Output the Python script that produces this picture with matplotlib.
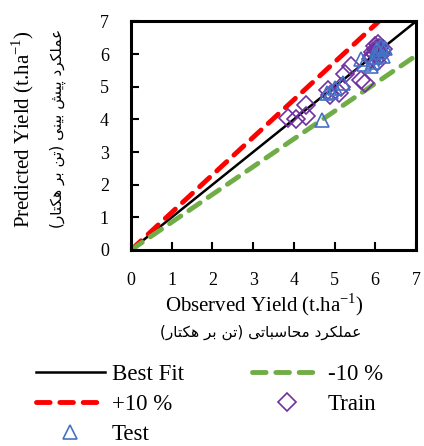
import matplotlib
matplotlib.use("Agg")
import matplotlib.pyplot as plt
import numpy as np

# observed vs predicted yield (t/ha)
train_obs = [3.85, 4.05, 4.30, 4.30, 4.85, 4.90, 5.10, 5.15, 5.25, 5.40, 5.65, 5.75,
             5.90, 6.05, 6.00, 6.05, 6.10, 6.00, 5.95, 6.15, 6.20, 6.10, 5.92, 6.08, 6.02]
train_pred = [4.05, 4.00, 4.45, 4.10, 4.90, 4.75, 4.80, 4.98, 5.40, 5.62, 5.22, 5.12,
              5.85, 5.75, 6.00, 6.10, 6.20, 6.25, 6.05, 6.00, 6.15, 5.95, 5.95, 6.30, 6.15]
test_obs = [4.70, 4.82, 4.92, 5.00, 5.20, 5.65, 5.72, 5.90, 5.95, 6.00, 6.10, 6.15, 6.25, 6.05, 6.20]
test_pred = [3.98, 4.80, 4.85, 4.95, 5.10, 5.85, 5.70, 5.62, 5.75, 5.90, 6.05, 6.25, 6.20, 6.15, 5.95]
line_x = [0, 7]
upper_k = 1.15
lower_k = 0.85
ticks = [0, 1, 2, 3, 4, 5, 6, 7]

fa_ylabel = "عملکرد پیش بینی (تن بر هکتار)"
fa_xlabel = "عملکرد محاسباتی (تن بر هکتار)"

# minimal Persian shaping (matplotlib has no complex text layout)
FORMS = {
    'ع': ('\uFEC9', '\uFECA', '\uFECB', '\uFECC'),
    'م': ('\uFEE1', '\uFEE2', '\uFEE3', '\uFEE4'),
    'ل': ('\uFEDD', '\uFEDE', '\uFEDF', '\uFEE0'),
    'ک': ('\uFB8E', '\uFB8F', '\uFB90', '\uFB91'),
    'پ': ('\uFB56', '\uFB57', '\uFB58', '\uFB59'),
    'ی': ('\uFBFC', '\uFBFD', '\uFBFE', '\uFBFF'),
    'ش': ('\uFEB5', '\uFEB6', '\uFEB7', '\uFEB8'),
    'ب': ('\uFE8F', '\uFE90', '\uFE91', '\uFE92'),
    'ن': ('\uFEE5', '\uFEE6', '\uFEE7', '\uFEE8'),
    'ت': ('\uFE95', '\uFE96', '\uFE97', '\uFE98'),
    'ه': ('\uFEE9', '\uFEEA', '\uFEEB', '\uFEEC'),
    'ح': ('\uFEA1', '\uFEA2', '\uFEA3', '\uFEA4'),
    'س': ('\uFEB1', '\uFEB2', '\uFEB3', '\uFEB4'),
    'ر': ('\uFEAD', '\uFEAE', None, None),
    'د': ('\uFEA9', '\uFEAA', None, None),
    'ا': ('\uFE8D', '\uFE8E', None, None),
}


def shape(text):
    out = []
    for i, ch in enumerate(text):
        if ch not in FORMS:
            out.append(ch)
            continue
        prev = text[i - 1] if i > 0 else ''
        nxt = text[i + 1] if i + 1 < len(text) else ''
        j_prev = prev in FORMS and FORMS[prev][2] is not None
        j_next = nxt in FORMS and FORMS[ch][2] is not None
        if j_prev and j_next:
            out.append(FORMS[ch][3])
        elif j_prev:
            out.append(FORMS[ch][1])
        elif j_next:
            out.append(FORMS[ch][2])
        else:
            out.append(FORMS[ch][0])
    mirror = {'(': ')', ')': '('}
    return ''.join(mirror.get(c, c) for c in reversed(out))


plt.rcParams['font.family'] = ['Liberation Serif', 'DejaVu Sans']
plt.rcParams['mathtext.fontset'] = 'custom'
plt.rcParams['mathtext.rm'] = 'Liberation Serif'

fig = plt.figure(figsize=(4.24, 4.46), dpi=100)
ax = fig.add_axes([0.309, 0.4395, 0.672, 0.5125])

xs = np.array(line_x, dtype=float)
ax.plot(xs, xs, color='black', lw=1.8, label='Best Fit')
ax.plot(xs, xs * upper_k, color='#FF0000', lw=3.5, ls=(0, (2.8, 2.0)),
        dash_capstyle='round', label='+10 %')
ax.plot(xs, xs * lower_k, color='#70AD47', lw=3.5, ls=(0, (2.8, 2.0)),
        dash_capstyle='round', label='-10 %')
ax.plot(train_obs, train_pred, ls='none', marker='D', ms=9, mfc='none',
        mec='#7030A0', mew=1.2, label='Train')
ax.plot(test_obs, test_pred, ls='none', marker='^', ms=10, mfc='none',
        mec='#4472C4', mew=1.2, label='Test')

ax.set_xlim(0, 7)
ax.set_ylim(0, 7)
ax.set_xticks(ticks)
ax.set_yticks(ticks)
ax.tick_params(direction='in', length=6, width=1.5, labelsize=13, top=False, right=False)
ax.tick_params(axis='x', pad=16)
ax.tick_params(axis='y', pad=16)
for s in ax.spines.values():
    s.set_linewidth(2.2)

fig.text(264 / 424, 1 - 305 / 446, 'Observed Yield (t.ha$^{-1}$)', ha='center', va='center',
         fontsize=15)
fig.text(261 / 424, 1 - 332 / 446, shape(fa_xlabel), ha='center', va='center',
         fontsize=11, family=['DejaVu Sans'])
fig.text(23 / 424, 1 - 129 / 446, 'Predicted Yield (t.ha$^{-1}$)', ha='center', va='center',
         fontsize=15, rotation=90)
fig.text(58 / 424, 1 - 128 / 446, shape(fa_ylabel), ha='center', va='center',
         fontsize=11, rotation=90, family=['DejaVu Sans'])

h, l = ax.get_legend_handles_labels()
order = [0, 1, 4, 2, 3]
fig.legend([h[i] for i in order], [l[i] for i in order], ncol=2, frameon=False,
           loc='upper left', bbox_to_anchor=(36 / 424, 1 - 364 / 446),
           borderpad=0, borderaxespad=0, fontsize=16.5, handlelength=3.0,
           handletextpad=0.3, columnspacing=3.0, labelspacing=0.38)

fig.savefig('out.png', dpi=100)
